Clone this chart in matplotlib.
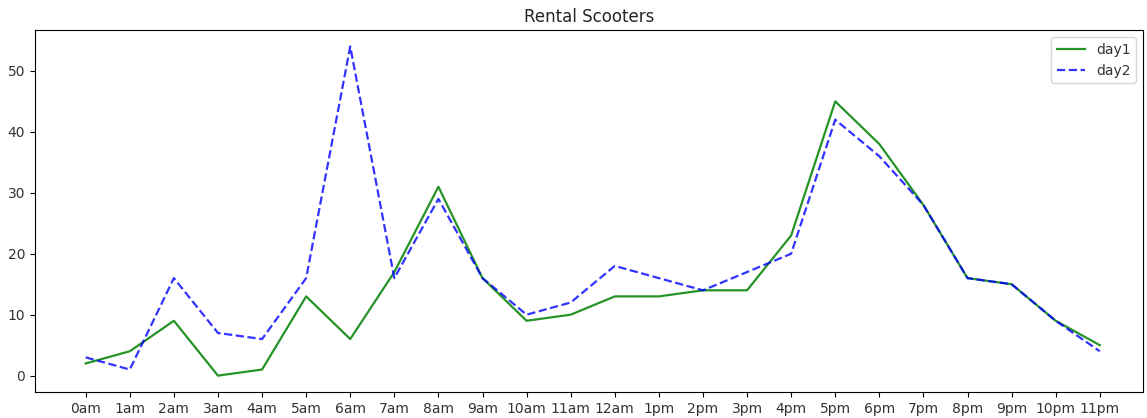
import matplotlib
matplotlib.use('Agg')
import matplotlib.pyplot as plt
import numpy as np

hours = ['0am', '1am', '2am', '3am', '4am', '5am', '6am', '7am', '8am', '9am',
         '10am', '11am', '12am', '1pm', '2pm', '3pm', '4pm', '5pm', '6pm', '7pm',
         '8pm', '9pm', '10pm', '11pm']
day1 = [2, 4, 9, 0, 1, 13, 6, 17, 31, 16, 9, 10, 13, 13, 14, 14, 23, 45, 38, 28, 16, 15, 9, 5]
day2 = [3, 1, 16, 7, 6, 16, 54, 16, 29, 16, 10, 12, 18, 16, 14, 17, 20, 42, 36, 28, 16, 15, 9, 4]

x = np.arange(len(hours))

fig = plt.figure(figsize=(11.47, 4.18), dpi=100)
ax = fig.add_axes([0.0305, 0.062, 0.966, 0.866])
ax.plot(x, day1, color='green', alpha=0.85, linestyle='-', linewidth=1.6, label='day1')
ax.plot(x, day2, color='blue', alpha=0.8, linestyle='--', linewidth=1.6, label='day2')
ax.set_xticks(x)
ax.set_xticklabels(hours)
ax.set_xlim(-1.15, 23.98)
ax.set_title('Rental Scooters', color='#262626')
leg = ax.legend(loc='upper right')
for t in leg.get_texts():
    t.set_color('#333333')
for lbl in ax.get_xticklabels() + ax.get_yticklabels():
    lbl.set_color('#333333')
plt.savefig('out.png', dpi=100)
